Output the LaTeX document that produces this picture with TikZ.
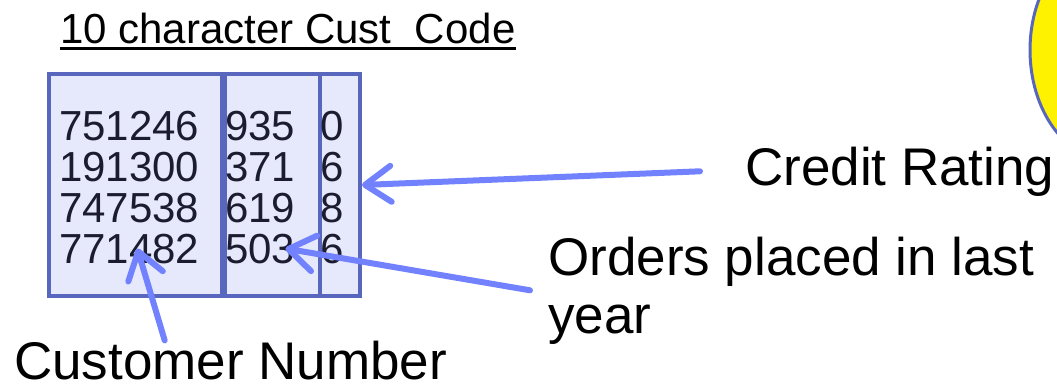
\documentclass[tikz,border=0pt]{standalone}
\usepackage{fontspec}
\setmainfont{Liberation Sans}
\usetikzlibrary{arrows.meta,shapes.geometric}
\definecolor{boxline}{RGB}{88,102,190}
\definecolor{boxfill}{RGB}{230,232,251}
\definecolor{pointer}{RGB}{114,130,255}
\definecolor{digitink}{RGB}{28,28,48}
\begin{document}
\begin{tikzpicture}[x=1pt,y=-1pt,
    col/.style={draw=boxline,fill=boxfill,line width=4pt,rectangle,inner sep=0pt,anchor=north west},
    digit/.style={anchor=base west,inner sep=0pt,text=digitink,font=\fontsize{42}{41}\selectfont},
    label/.style={anchor=base west,inner sep=0pt,align=left,font=\fontsize{53}{58}\selectfont},
    ptr/.style={draw=pointer,line width=6pt,line cap=round,-{Straight Barb[length=26pt,width=36pt,round]}}]
    \tikzstyle{blob}=[ellipse,draw=boxline,fill=yellow,line width=3pt,minimum width=160pt,minimum height=220pt]
    \useasboundingbox (0,0) rectangle (1057,384);

    % the three fields of the code
    \node[col,minimum width=173pt,minimum height=222pt] (num) at (47,72) {};
    \node[col,minimum width=95pt,minimum height=222pt] (ord) at (223,72) {};
    \node[col,minimum width=40pt,minimum height=222pt] (rat) at (318,72) {};

    \foreach \a/\b/\c [count=\i] in {751246/935/0,191300/371/6,747538/619/8,771482/503/6}{
        \node[digit] (n\i) at (59,99+41*\i) {\a};
        \node[digit] (o\i) at (225,99+41*\i) {\b};
        \node[digit] (r\i) at (320,99+41*\i) {\c};
    }

    \node[digit,text=black] (title) at (60,43) {10 character Cust\ \ Code};
    \draw[line width=3pt] ([yshift=-5pt]title.base west) -- ([yshift=-5pt]title.base east);

    \node[blob] (sun) at (1110,50) {};

    \node[label] (credit) at (745,185) {Credit Rating};
    % base of a two line node sits on its last line
    \node[label] (orders) at (548,333) {Orders placed in last\\year};
    \node[label] (cust) at (14,379) {Customer Number};

    \draw[ptr] ([xshift=-45pt]credit.west) -- (rat.east);
    \draw[ptr] ([xshift=-18pt]orders.west) -- ([xshift=-10pt]o4.east);
    \draw[ptr] ([xshift=-66pt]cust.north) -- ([xshift=8pt]n4.center);

  \end{tikzpicture}
\end{document}
